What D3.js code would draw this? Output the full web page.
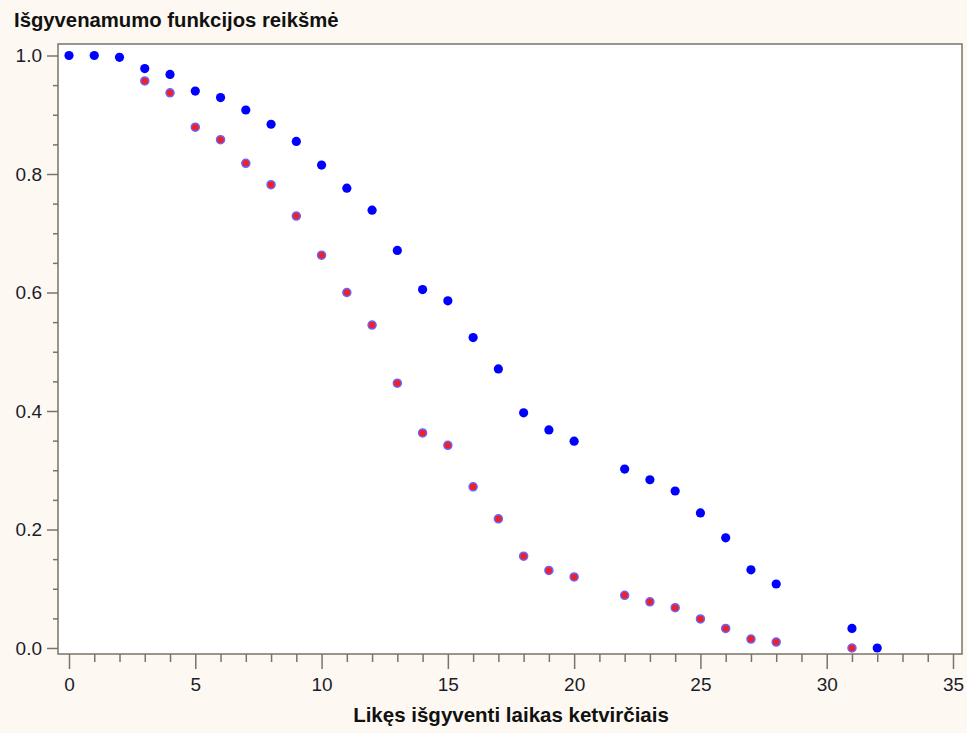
<!DOCTYPE html>
<html>
<head>
<meta charset="UTF-8" />
<script src="https://d3js.org/d3.v7.min.js"></script>
<style>
    body { margin: 0; background-color: #FDF9F2; }
    svg { display: block; }
</style>
</head>
<body>
<div id="chart"></div>
<script>
    // laikas ketvirčiais
    var blueX = [0, 1, 2, 3, 4, 5, 6, 7, 8, 9, 10, 11, 12, 13, 14, 15, 16, 17, 18, 19, 20, 22, 23, 24, 25, 26, 27, 28, 31, 32];
    var blueY = [1.0, 1.0, 0.997, 0.978, 0.968, 0.940, 0.929, 0.908, 0.884, 0.855, 0.815, 0.776, 0.739, 0.671, 0.605, 0.586, 0.524, 0.471, 0.397, 0.368, 0.349, 0.302, 0.284, 0.265, 0.228, 0.186, 0.132, 0.108, 0.033, 0.0];
    var redX = [3, 4, 5, 6, 7, 8, 9, 10, 11, 12, 13, 14, 15, 16, 17, 18, 19, 20, 22, 23, 24, 25, 26, 27, 28, 31];
    var redY = [0.957, 0.937, 0.879, 0.858, 0.818, 0.782, 0.729, 0.663, 0.600, 0.545, 0.447, 0.363, 0.342, 0.272, 0.218, 0.155, 0.131, 0.120, 0.089, 0.078, 0.068, 0.049, 0.033, 0.015, 0.010, 0.0];
    var xTicks = [0, 5, 10, 15, 20, 25, 30, 35];
    var yTicks = [0.0, 0.2, 0.4, 0.6, 0.8, 1.0];

    var width = 967;
    var height = 733;
    var plotLeft = 58, plotRight = 962, plotTop = 44, plotBottom = 654;
    var axisColor = "#7a7468";
    var font = "Liberation Sans, Arial, sans-serif";

    var svg = d3.select("#chart")
        .append("svg")
        .attr("width", width)
        .attr("height", height);

    var x = d3.scaleLinear().domain([0, 35]).range([69, 953]);
    var y = d3.scaleLinear().domain([0, 1]).range([648, 55.5]);

    svg.append("rect")
        .attr("x", plotLeft)
        .attr("y", plotTop)
        .attr("width", plotRight - plotLeft)
        .attr("height", plotBottom - plotTop)
        .attr("fill", "white")
        .attr("stroke", axisColor)
        .attr("stroke-width", 1.5);

    // x ass
    svg.append("g")
        .attr("transform", "translate(0," + plotBottom + ")")
        .call(d3.axisBottom(x).tickValues(xTicks).tickSize(15).tickPadding(9).tickFormat(d3.format("d")));
    svg.append("g")
        .attr("transform", "translate(0," + plotBottom + ")")
        .call(d3.axisBottom(x).tickValues(d3.range(0, 36).filter(function (d) { return d % 5 != 0; })).tickSize(8).tickFormat(""));

    // y ass
    svg.append("g")
        .attr("transform", "translate(" + plotLeft + ",0)")
        .call(d3.axisLeft(y).tickValues(yTicks).tickSize(11).tickPadding(5).tickFormat(d3.format(".1f")));
    svg.append("g")
        .attr("transform", "translate(" + plotLeft + ",0)")
        .call(d3.axisLeft(y).tickValues(d3.range(0, 21).map(function (d) { return d * 0.05; }).filter(function (d, i) { return i % 4 != 0; })).tickSize(5).tickFormat(""));

    svg.selectAll(".domain").remove();
    svg.selectAll(".tick line").attr("stroke", axisColor).attr("stroke-width", 1.5);
    svg.selectAll(".tick text")
        .attr("fill", "#1c1c2a")
        .style("font-family", font)
        .style("font-size", "19px");

    var blue = blueX.map(function (d, i) { return { x: d, y: blueY[i] }; });
    var red = redX.map(function (d, i) { return { x: d, y: redY[i] }; });

    svg.append("g").selectAll("circle")
        .data(blue)
        .enter()
        .append("circle")
        .attr("cx", function (d) { return x(d.x); })
        .attr("cy", function (d) { return y(d.y); })
        .attr("r", 4.6)
        .attr("fill", "#0000ff");

    svg.append("g").selectAll("circle")
        .data(red)
        .enter()
        .append("circle")
        .attr("cx", function (d) { return x(d.x); })
        .attr("cy", function (d) { return y(d.y); })
        .attr("r", 4)
        .attr("fill", "#f0202a")
        .attr("stroke", "#6666ff")
        .attr("stroke-width", 1.5);

    svg.append("text")
        .attr("x", 14)
        .attr("y", 27)
        .attr("fill", "#111")
        .style("font-family", font)
        .style("font-size", "20.3px")
        .style("font-weight", "bold")
        .text("Išgyvenamumo funkcijos reikšmė");

    svg.append("text")
        .attr("x", 511)
        .attr("y", 722)
        .attr("text-anchor", "middle")
        .attr("fill", "#111")
        .style("font-family", font)
        .style("font-size", "20.5px")
        .style("font-weight", "bold")
        .text("Likęs išgyventi laikas ketvirčiais");
</script>
</body>
</html>
